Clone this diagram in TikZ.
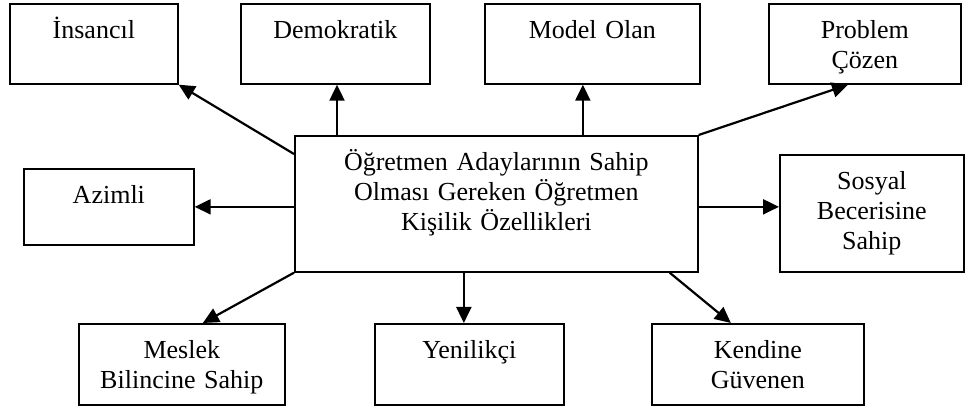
\documentclass[tikz,border=0pt]{standalone}
\usepackage{fontspec}
\setmainfont{Liberation Serif}
\usetikzlibrary{arrows.meta}
\tikzset{>/.tip={Triangle[length=8pt,width=7.5pt]},
  kutu/.style 2 args={draw, line width=0.85pt, anchor=north west, align=center,
    inner sep=0pt, text width=#1, text height=17.5pt, text depth=#2,
    font=\fontsize{13}{15}\selectfont}}

\begin{document}
\begin{tikzpicture}[x=0.5pt,y=-0.5pt]
\useasboundingbox (0,0) rectangle (965,410);
\node[kutu={84pt}{22.5pt}] (insancil) at (9,3) {İnsancıl};
\node[kutu={94.5pt}{22.5pt}] (demokratik) at (240,3) {Demokratik};
\node[kutu={107.5pt}{22.5pt}] (model) at (484,3) {Model Olan};
\node[kutu={96pt}{22.5pt}] (problem) at (768,3) {Problem\\Çözen};

\node[kutu={85pt}{20.5pt}] (azimli) at (23,168) {Azimli};
\node[kutu={201.5pt}{50.5pt}] (merkez) at (294,135) {Öğretmen Adaylarının Sahip\\Olması Gereken Öğretmen\\Kişilik Özellikleri};
\node[kutu={92pt}{41pt}] (sosyal) at (779,154) {Sosyal\\Becerisine\\Sahip};

\node[kutu={103pt}{23pt}] (meslek) at (78,323) {Meslek\\Bilincine Sahip};
\node[kutu={94.5pt}{23pt}] (yenilikci) at (374,323) {Yenilikçi};
\node[kutu={106pt}{23pt}] (kendine) at (651,323) {Kendine\\Güvenen};

\draw[->,line width=1.1pt] ([yshift=-9.5pt]merkez.north west) -- (insancil.south east);
\draw[->,line width=1.1pt] ([xshift=21.5pt]merkez.north west) -- ([xshift=21.5pt]merkez.north west |- demokratik.south);
\draw[->,line width=1.1pt] ([xshift=-4.75pt]model.south |- merkez.north) -- ([xshift=-4.75pt]model.south);
\draw[->,line width=1.1pt] (merkez.north east) -- ([xshift=40pt]problem.south west);
\draw[->,line width=1.1pt] (merkez.west |- azimli.east) -- (azimli.east);
\draw[->,line width=1.1pt] (merkez.east |- azimli.east) -- (sosyal.west |- azimli.east);
\draw[->,line width=1.1pt] (merkez.south west) -- ([xshift=10.5pt]meslek.north);
\draw[->,line width=1.1pt] ([xshift=-2.75pt]yenilikci.north |- merkez.south) -- ([xshift=-2.75pt]yenilikci.north);
\draw[->,line width=1.1pt] ([xshift=-14.5pt]merkez.south east) -- ([xshift=-13.5pt]kendine.north);
\end{tikzpicture}
\end{document}
